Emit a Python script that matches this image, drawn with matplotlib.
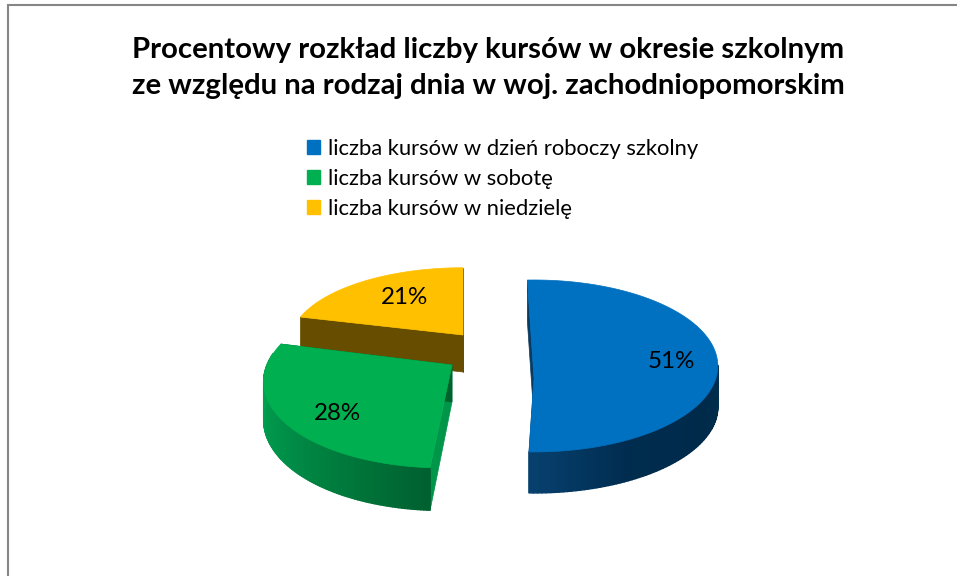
import numpy as np
from matplotlib import pyplot as plt
from matplotlib.collections import PolyCollection
from matplotlib.colors import to_rgb
from matplotlib.patches import Patch, Polygon

plt.rcParams['font.family'] = ['Lato', 'DejaVu Sans']

TITLE = 'Procentowy rozkład liczby kursów w okresie szkolnym\nze względu na rodzaj dnia w woj. zachodniopomorskim'
LABELS = ['liczba kursów w dzień roboczy szkolny', 'liczba kursów w sobotę', 'liczba kursów w niedzielę']
VALUES = [51, 28, 21]
COLORS = ['#0070C0', '#00B050', '#FFC000']

# projection of each exploded slice: apex x, apex y, rx, ry, perspective, shear, depth, depth slope, rotation
VIEWS = [
    (534, 378, 182, 84.3, -0.14, 0.0, 41, 0.0, -1.8),
    (452, 365, 185, 87.5, 0.15, 0.08, 37, 0.15, 0.0),
    (463, 335, 172, 74, 0.10, 0.0, 37, 0.0, 0.0),
]
LABEL_POS = [(671, 361), (337, 413), (405, 298)]
# colour of the outer wall along the arc of the slice, start to end
WALL_STOPS = [
    ['#0c3a5c', '#0c3a5c', '#01304f', '#002a4a', '#002c4e', '#07406e'],
    ['#006030', '#007a3c', '#009048', '#00a04f', '#00a04f'],
    ['#8a6800', '#8a6800'],
]
CUT_COLORS = [('#0a3a60', '#0a3a60'), ('#00964a', '#00602e'), ('#664d00', '#664d00')]


def project(theta, view):
    '''Plan angle (deg, clockwise from top) to screen pixels of the top face'''
    ax0, ay0, rx, ry, k, shear = view[:6]
    angle = np.radians(theta + view[8])
    x = np.sin(angle)
    y = np.cos(angle)
    s = 1 / (1 + k * y)
    return ax0 + rx * x * s + shear * ry * y * s, ay0 - ry * y * s


def wall_height(theta, view):
    depth, slope = view[6], view[7]
    return depth * (1 - slope * np.cos(np.radians(theta)))


def mix(stops, t):
    rgb = np.array([to_rgb(c) for c in stops])
    pos = np.linspace(0, 1, len(stops))
    return [np.interp(t, pos, rgb[:, i]) for i in range(3)]


def draw_slice(ax, start, end, view, color, stops, cut):
    ax0, ay0 = view[0], view[1]
    thetas = np.linspace(start, end, 120)
    xs, ys = project(thetas, view)
    hs = wall_height(thetas, view)

    # flat cut faces run from the apex out to the arc
    for theta, shade in zip((start, end), cut):
        x, y = project(theta, view)
        h = wall_height(theta, view)
        ax.add_patch(Polygon([(ax0, ay0), (x, y), (x, y + h), (ax0, ay0 + view[6])],
                             closed=True, facecolor=shade, edgecolor=shade, lw=0.5))

    # only the front part of the outer wall can be seen
    quads = []
    shades = []
    for i in range(len(thetas) - 1):
        if np.cos(np.radians(thetas[i])) > 0.12:
            continue
        quads.append([(xs[i], ys[i]), (xs[i + 1], ys[i + 1]),
                      (xs[i + 1], ys[i + 1] + hs[i + 1]), (xs[i], ys[i] + hs[i])])
        shades.append(mix(stops, i / (len(thetas) - 2)))
    if quads:
        ax.add_collection(PolyCollection(quads, facecolors=shades, edgecolors=shades,
                                         linewidths=1.0))

    top = np.column_stack([np.append(xs, ax0), np.append(ys, ay0)])
    ax.add_patch(Polygon(top, closed=True, facecolor=color, edgecolor=color, lw=0.5))


fig = plt.figure(figsize=(9.57, 5.76), dpi=100)
ax = fig.add_axes([0, 0, 1, 1])
ax.set_xlim(0, 957)
ax.set_ylim(576, 0)
ax.axis('off')

ax.plot([7.5, 7.5, 957], [576, 5, 5], color='#868686', lw=1.5, solid_joinstyle='miter')

ends = np.cumsum(VALUES) / sum(VALUES) * 360
starts = np.append(0, ends[:-1])

# back slice first so the nearer ones cover it
for i in [2, 1, 0]:
    draw_slice(ax, starts[i], ends[i], VIEWS[i], COLORS[i], WALL_STOPS[i], CUT_COLORS[i])

for value, pos in zip(VALUES, LABEL_POS):
    ax.text(pos[0], pos[1], f'{value}%', ha='center', va='center', fontsize=17.4, color='black')

ax.text(488, 68, TITLE, ha='center', va='center', fontsize=21.2, fontweight='bold',
        color='black', linespacing=1.43)

handles = [Patch(facecolor=c, edgecolor=c) for c in COLORS]
ax.legend(handles, LABELS, loc='upper left', bbox_to_anchor=(307 / 957, 1 - 139 / 576), frameon=False,
          fontsize=15.8, handlelength=0.6, handleheight=0.6, handletextpad=0.36, labelspacing=0.46,
          borderpad=0, borderaxespad=0)

fig.savefig('out.png', dpi=100)
